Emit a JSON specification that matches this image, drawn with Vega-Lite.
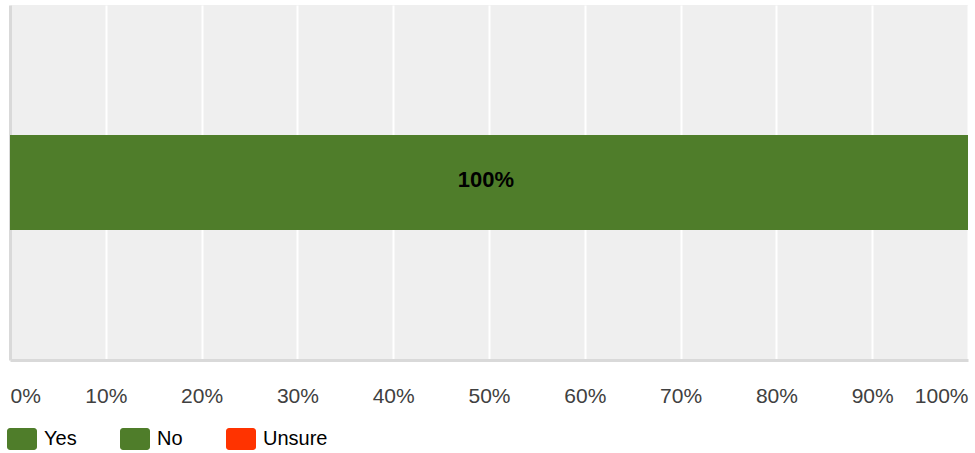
{
  "$schema": "https://vega.github.io/schema/vega-lite/v6.json",
  "width": 958,
  "height": 355,
  "autosize": {"type": "none"},
  "padding": {"left": 10, "top": 5, "right": 7, "bottom": 93},
  "background": "white",
  "config": {
    "view": {"fill": "#efefef", "stroke": null},
    "font": "Liberation Sans"
  },
  "data": {
    "values": [
      {"q": "Q", "answer": "Yes", "value": 100},
      {"q": "Q", "answer": "No", "value": 0},
      {"q": "Q", "answer": "Unsure", "value": 0}
    ]
  },
  "encoding": {
    "y": {
      "field": "q",
      "type": "nominal",
      "axis": {
        "title": null,
        "labels": false,
        "ticks": false,
        "grid": false,
        "domain": true,
        "domainColor": "#d9d9d9",
        "domainWidth": 3
      }
    }
  },
  "layer": [
    {
      "mark": {"type": "bar", "size": 95},
      "encoding": {
        "x": {
          "field": "value",
          "type": "quantitative",
          "stack": "zero",
          "scale": {"domain": [0, 100], "nice": false},
          "axis": {
            "title": null,
            "values": [0, 10, 20, 30, 40, 50, 60, 70, 80, 90, 100],
            "labelExpr": "datum.value + '%'",
            "labelFlush": true,
            "labelFontSize": 21,
            "labelColor": "#404040",
            "labelPadding": 25,
            "ticks": false,
            "grid": true,
            "gridColor": "#ffffff",
            "gridWidth": 2,
            "gridOpacity": 1,
            "domain": true,
            "domainColor": "#d9d9d9",
            "domainWidth": 3
          }
        },
        "color": {
          "field": "answer",
          "type": "nominal",
          "scale": {
            "domain": ["Yes", "No", "Unsure"],
            "range": ["#4f7d2a", "#4f7d2a", "#ff3300"]
          },
          "legend": {
            "title": null,
            "orient": "none",
            "direction": "horizontal",
            "legendX": -3,
            "legendY": 419,
            "symbolType": "M-0.8,-0.73H0.8A0.2,0.2 0 0 1 1,-0.53V0.53A0.2,0.2 0 0 1 0.8,0.73H-0.8A0.2,0.2 0 0 1 -1,0.53V-0.53A0.2,0.2 0 0 1 -0.8,-0.73Z",
            "symbolSize": 900,
            "symbolStrokeWidth": 0,
            "symbolOpacity": 1,
            "labelFontSize": 20,
            "labelColor": "#000000",
            "labelOffset": 7,
            "columnPadding": 43,
            "labelLimit": 200
          }
        }
      }
    },
    {
      "transform": [
        {"filter": "datum.value > 0"},
        {"stack": "value", "groupby": ["q"], "as": ["v0", "v1"]},
        {"calculate": "(datum.v0 + datum.v1) / 2", "as": "mid"},
        {"calculate": "datum.value + '%'", "as": "label"}
      ],
      "mark": {
        "type": "text",
        "fontWeight": "bold",
        "fontSize": 22,
        "color": "#000000",
        "dx": -3,
        "dy": -3
      },
      "encoding": {
        "x": {"field": "mid", "type": "quantitative"},
        "text": {"field": "label", "type": "nominal"}
      }
    }
  ]
}
